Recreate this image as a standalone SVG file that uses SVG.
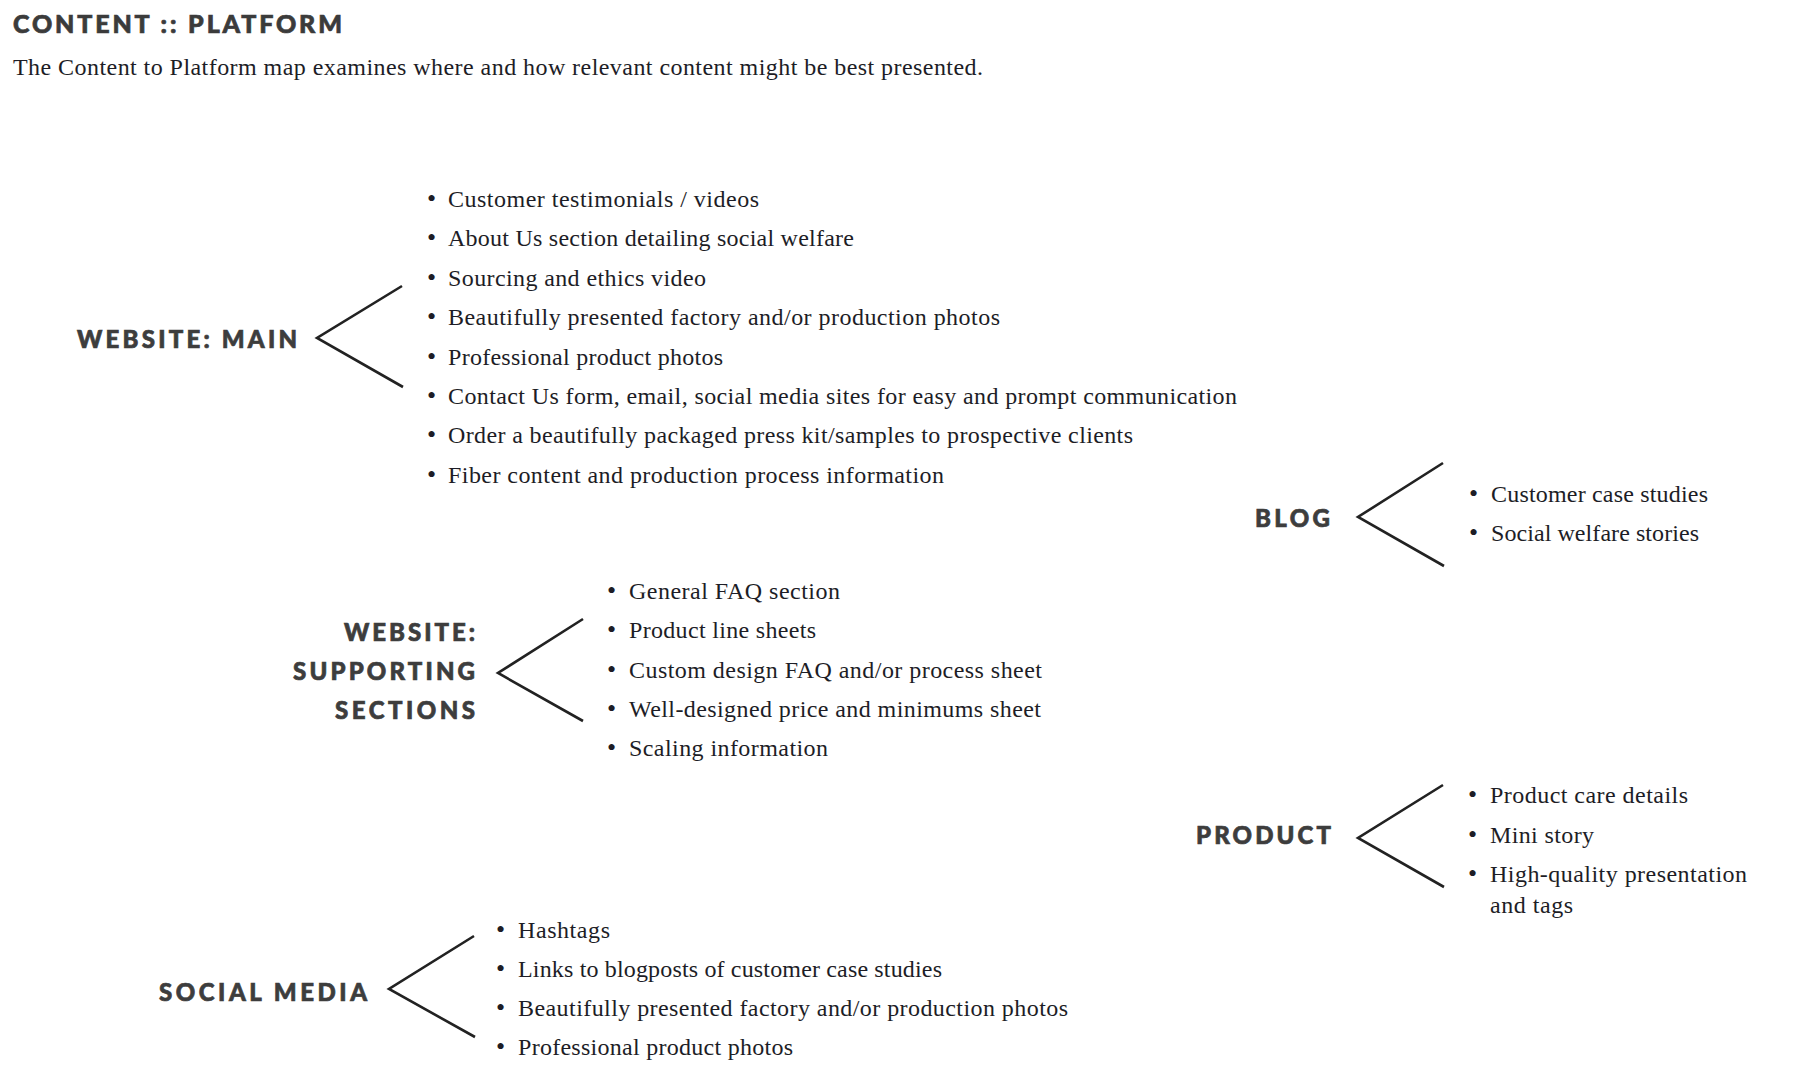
<svg xmlns="http://www.w3.org/2000/svg" width="1814" height="1086" viewBox="0 0 1814 1086">
<style>
.title{font-family:Lato,"Open Sans","Liberation Sans",sans-serif;font-weight:900;font-size:25px;fill:#3b3b3b;stroke:#3b3b3b;stroke-width:0.7px;}
.sub{font-family:"Liberation Serif","DejaVu Serif",serif;font-size:24px;fill:#1d1d26;}
.lbl{font-family:Lato,"Open Sans","Liberation Sans",sans-serif;font-weight:900;font-size:24px;fill:#3d3d3d;stroke:#3d3d3d;stroke-width:0.7px;}
.it{font-family:"Liberation Serif","DejaVu Serif",serif;font-size:24px;fill:#1d1d26;}
.bul{font-family:"Liberation Serif","DejaVu Serif",serif;font-size:26px;fill:#1d1d26;}
.chev{fill:none;stroke:#222;stroke-width:2.6;stroke-linejoin:miter;}
</style>
<rect width="1814" height="1086" fill="#ffffff"/>
<g id="header">
<text class="title" x="13" y="33" textLength="329" lengthAdjust="spacing">CONTENT :: PLATFORM</text>
<text class="sub" x="13" y="75" textLength="970" lengthAdjust="spacing">The Content to Platform map examines where and how relevant content might be best presented.</text>
</g>
<g id="connectors">
<polyline class="chev" points="402,286 317,338 403,387"/>
<polyline class="chev" points="1443,463 1358,517 1444,566"/>
<polyline class="chev" points="583,619 498,673 583,721"/>
<polyline class="chev" points="1443,785 1358,838 1444,887"/>
<polyline class="chev" points="474,936 389,989 475,1037"/>
</g>
<g id="website-main">
<text class="lbl" x="77" y="348" textLength="220" lengthAdjust="spacing">WEBSITE: MAIN</text>
<g class="list">
<text class="bul" x="427" y="207">•</text><text class="it" x="448" y="207" textLength="311" lengthAdjust="spacing">Customer testimonials / videos</text>
<text class="bul" x="427" y="246">•</text><text class="it" x="448" y="246" textLength="406" lengthAdjust="spacing">About Us section detailing social welfare</text>
<text class="bul" x="427" y="286">•</text><text class="it" x="448" y="286" textLength="258" lengthAdjust="spacing">Sourcing and ethics video</text>
<text class="bul" x="427" y="325">•</text><text class="it" x="448" y="325" textLength="552" lengthAdjust="spacing">Beautifully presented factory and/or production photos</text>
<text class="bul" x="427" y="365">•</text><text class="it" x="448" y="365" textLength="275" lengthAdjust="spacing">Professional product photos</text>
<text class="bul" x="427" y="404">•</text><text class="it" x="448" y="404" textLength="789" lengthAdjust="spacing">Contact Us form, email, social media sites for easy and prompt communication</text>
<text class="bul" x="427" y="443">•</text><text class="it" x="448" y="443" textLength="685" lengthAdjust="spacing">Order a beautifully packaged press kit/samples to prospective clients</text>
<text class="bul" x="427" y="483">•</text><text class="it" x="448" y="483" textLength="496" lengthAdjust="spacing">Fiber content and production process information</text>
</g>
</g>
<g id="blog">
<text class="lbl" x="1255" y="527" textLength="75" lengthAdjust="spacing">BLOG</text>
<text class="bul" x="1469" y="502">•</text><text class="it" x="1491" y="502" textLength="217" lengthAdjust="spacing">Customer case studies</text>
<text class="bul" x="1469" y="541">•</text><text class="it" x="1491" y="541" textLength="208" lengthAdjust="spacing">Social welfare stories</text>
</g>
<g id="website-supporting">
<text class="lbl" x="344" y="641" textLength="131" lengthAdjust="spacing">WEBSITE:</text>
<text class="lbl" x="293" y="680" textLength="182" lengthAdjust="spacing">SUPPORTING</text>
<text class="lbl" x="335" y="719" textLength="140" lengthAdjust="spacing">SECTIONS</text>
<text class="bul" x="607" y="599">•</text><text class="it" x="629" y="599" textLength="211" lengthAdjust="spacing">General FAQ section</text>
<text class="bul" x="607" y="638">•</text><text class="it" x="629" y="638" textLength="187" lengthAdjust="spacing">Product line sheets</text>
<text class="bul" x="607" y="678">•</text><text class="it" x="629" y="678" textLength="413" lengthAdjust="spacing">Custom design FAQ and/or process sheet</text>
<text class="bul" x="607" y="717">•</text><text class="it" x="629" y="717" textLength="412" lengthAdjust="spacing">Well-designed price and minimums sheet</text>
<text class="bul" x="607" y="756">•</text><text class="it" x="629" y="756" textLength="199" lengthAdjust="spacing">Scaling information</text>
</g>
<g id="product">
<text class="lbl" x="1196" y="844" textLength="135" lengthAdjust="spacing">PRODUCT</text>
<text class="bul" x="1468" y="803">•</text><text class="it" x="1490" y="803" textLength="198" lengthAdjust="spacing">Product care details</text>
<text class="bul" x="1468" y="843">•</text><text class="it" x="1490" y="843" textLength="104" lengthAdjust="spacing">Mini story</text>
<text class="bul" x="1468" y="882">•</text><text class="it" x="1490" y="882" textLength="257" lengthAdjust="spacing">High-quality presentation</text>
<text class="it" x="1490" y="913" textLength="83" lengthAdjust="spacing">and tags</text>
</g>
<g id="social-media">
<text class="lbl" x="159" y="1001" textLength="208" lengthAdjust="spacing">SOCIAL MEDIA</text>
<text class="bul" x="496" y="938">•</text><text class="it" x="518" y="938" textLength="92" lengthAdjust="spacing">Hashtags</text>
<text class="bul" x="496" y="977">•</text><text class="it" x="518" y="977" textLength="424" lengthAdjust="spacing">Links to blogposts of customer case studies</text>
<text class="bul" x="496" y="1016">•</text><text class="it" x="518" y="1016" textLength="550" lengthAdjust="spacing">Beautifully presented factory and/or production photos</text>
<text class="bul" x="496" y="1055">•</text><text class="it" x="518" y="1055" textLength="275" lengthAdjust="spacing">Professional product photos</text>
</g>
</svg>
